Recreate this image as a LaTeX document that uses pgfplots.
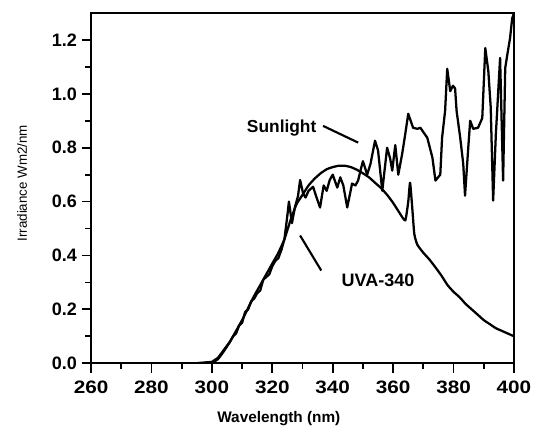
\documentclass[border=0pt]{standalone}
\usepackage{fontspec}
\setmainfont{Liberation Sans}
\usepackage{pgfplots}
\pgfplotsset{compat=1.18}
\begin{document}
\begin{tikzpicture}
\begin{axis}[
  scale only axis,
  width=317pt, height=262.5pt,
  xmin=260, xmax=400, ymin=0, ymax=1.3,
  xtick={260,280,...,400},
  ytick={0,0.2,...,1.2},
  minor x tick num=1, minor y tick num=1,
  tick align=outside,
  xtick pos=left, ytick pos=left,
  major tick length=7pt, minor tick length=4.5pt,
  every tick/.style={line width=1.3pt, black},
  axis line style={line width=1.6pt},
  /pgf/number format/assume math mode=true,
  yticklabel style={font=\fontsize{13.5}{14}\selectfont\bfseries, /pgf/number format/.cd, fixed, fixed zerofill, precision=1},
  xticklabel style={font=\fontsize{13.5}{14}\selectfont\bfseries, yshift=-3pt},
  xticklabel={\scalebox{1.15}[1]{\pgfmathprintnumber{\tick}}},
  xlabel={Wavelength (nm)},
  ylabel={Irradiance Wm2/nm},
  every axis x label/.style={at={(axis description cs:0.444,-0.157)}, anchor=center, font=\fontsize{11.5}{12}\selectfont\bfseries},
  every axis y label/.style={at={(axis description cs:-0.163,0.514)}, rotate=90, anchor=center, font=\fontsize{10}{12}\selectfont},
]
% Sunlight
\addplot[black, line width=1.7pt, line join=round] coordinates {
(295,0) (300,0.005) (302,0.02) (304,0.05) (306,0.08) (307,0.10) (308,0.11)
(309,0.14) (310,0.15) (311,0.19) (312,0.20) (313,0.23) (314,0.24) (315,0.26)
(316,0.27) (317,0.31) (318,0.32) (319,0.33) (320,0.36) (321,0.38) (322,0.39)
(323,0.42) (324,0.46) (325,0.55) (325.5,0.60) (326.5,0.52) (327.5,0.58)
(328.5,0.62) (329.2,0.68) (330.2,0.63) (331,0.615) (332,0.64) (333.5,0.655)
(334.5,0.62) (335.8,0.578) (337,0.66) (338,0.64) (339,0.68) (340,0.70)
(341.5,0.652) (342.5,0.69) (343.5,0.66) (344.8,0.578) (346.4,0.667)
(347.5,0.66) (348.4,0.678) (349.3,0.72) (350,0.75) (351.4,0.70) (352.5,0.74)
(354,0.826) (355,0.79) (356.4,0.64) (357.2,0.72) (358,0.80) (359,0.76)
(359.7,0.715) (360.7,0.81) (361.7,0.70) (363,0.778) (364,0.85) (365,0.926)
(366.6,0.874) (368,0.87) (369,0.874) (371.3,0.837) (373,0.763) (374,0.678)
(375.6,0.70) (376.2,0.837) (377.2,0.937) (377.9,1.093) (378.9,1.01)
(379.8,1.03) (380.5,1.02) (381,0.937) (382.2,0.837) (383.2,0.74)
(383.8,0.622) (384.8,0.79) (385.5,0.90) (386.5,0.87) (388.1,0.874)
(389.5,0.91) (390.5,1.17) (391.5,1.085) (392.3,0.95) (393.1,0.604)
(394,0.85) (395.4,1.133) (396.4,0.678) (397.1,1.096) (398,1.16)
(398.7,1.207) (399.4,1.28) (400,1.30)
};
% UVA-340
\addplot[black, line width=1.7pt, line join=round, smooth, tension=0.3] coordinates {
(295,0) (300,0.003) (302,0.015) (304,0.045) (306,0.08) (308,0.12) (310,0.16)
(312,0.205) (314,0.25) (316,0.29) (318,0.33) (320,0.37) (322,0.41) (324,0.46)
(326,0.53) (328,0.59) (330,0.625) (332,0.66) (334,0.685) (336,0.705)
(338,0.72) (340,0.728) (342,0.733) (344,0.733) (346,0.728) (348,0.718)
(350,0.705) (352,0.69) (354,0.67) (356,0.65) (358,0.625) (360,0.595)
(362,0.56) (364,0.53) (365,0.60) (365.6,0.67) (366.3,0.58) (367,0.48)
(368,0.44) (370,0.41) (372,0.385) (374,0.356) (376,0.325) (378,0.29)
(380,0.265) (382,0.245) (384,0.22) (386,0.20) (388,0.18) (390,0.16)
(392,0.145) (394,0.13) (396,0.12) (398,0.11) (400,0.10)
};
\node[font=\fontsize{13}{14}\selectfont\bfseries] at (axis cs:323.1,0.874) {Sunlight};
\draw[line width=1.6pt] (axis cs:336.8,0.881) -- (axis cs:348.4,0.819);
\node[font=\fontsize{13.5}{14}\selectfont\bfseries] at (axis cs:355,0.307) {UVA-340};
\draw[line width=1.6pt] (axis cs:329.2,0.474) -- (axis cs:336.2,0.344);
\end{axis}
\pgfresetboundingbox
\path ([shift={(-68.25pt,-48pt)}]current axis.south west) rectangle ([shift={(16.5pt,9.75pt)}]current axis.north east);
\end{tikzpicture}
\end{document}
